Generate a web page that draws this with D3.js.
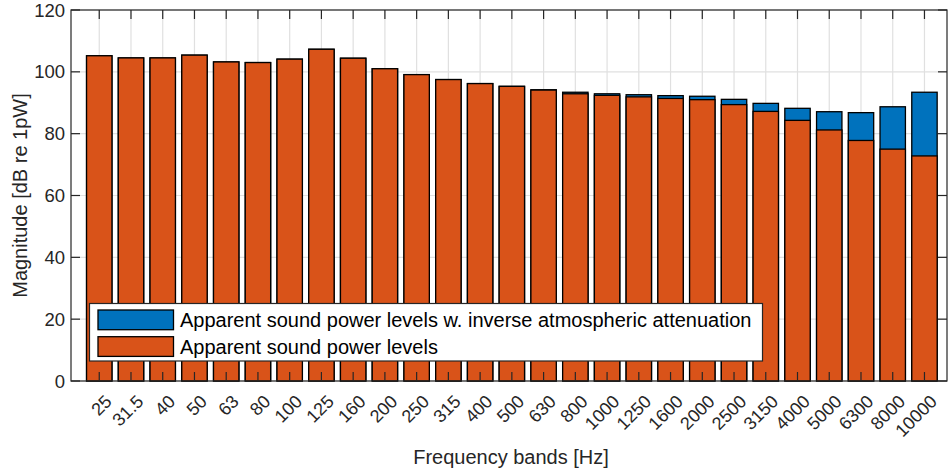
<!DOCTYPE html>
<html>
<head>
<meta charset="utf-8">
<script src="https://cdn.jsdelivr.net/npm/d3@7"></script>
<style>
  html, body { margin: 0; padding: 0; background: #fff; }
  svg { display: block; font-family: "Liberation Sans", Arial, Helvetica, sans-serif; }
</style>
</head>
<body>
<svg id="chart" width="948" height="476"></svg>
<script>
// Third-octave frequency bands [Hz]
const bands = ["25", "31.5", "40", "50", "63", "80", "100", "125", "160", "200", "250", "315",
  "400", "500", "630", "800", "1000", "1250", "1600", "2000", "2500", "3150", "4000",
  "5000", "6300", "8000", "10000"];

// Apparent sound power levels [dB re 1pW]
const apparentLevels = [105.2, 104.5, 104.5, 105.4, 103.2, 103.0, 104.1, 107.3, 104.4, 101.0,
  99.1, 97.5, 96.2, 95.3, 94.1, 92.9, 92.4, 91.9, 91.4, 91.0, 89.4, 87.2, 84.3, 81.2, 77.8,
  75.0, 72.8];

// Apparent sound power levels with inverse atmospheric attenuation [dB re 1pW]
const correctedLevels = [105.2, 104.5, 104.5, 105.4, 103.2, 103.0, 104.1, 107.3, 104.4, 101.0,
  99.1, 97.5, 96.2, 95.3, 94.2, 93.4, 92.9, 92.6, 92.3, 92.1, 91.1, 89.8, 88.2, 87.1, 86.8,
  88.7, 93.4];

const yTicks = [0, 20, 40, 60, 80, 100, 120];
const seriesNames = [
  "Apparent sound power levels w. inverse atmospheric attenuation",
  "Apparent sound power levels"
];
const seriesColors = ["#0072BD", "#D95319"];

const axisColor = "#262626";
const gridColor = "#e0e0e0";

const svg = d3.select("#chart");
const plot = { left: 71, right: 947, top: 10, bottom: 381 };

const x = d3.scaleLinear().domain([-0.89, bands.length - 0.29]).range([plot.left, plot.right]);
const y = d3.scaleLinear().domain([0, 120]).range([plot.bottom, plot.top]);
const barW = x(0.8) - x(0);
const tickLen = 9;

// grid
const grid = svg.append("g");
grid.selectAll("line.gx").data(bands).join("line")
  .attr("x1", (d, i) => x(i)).attr("x2", (d, i) => x(i))
  .attr("y1", plot.top).attr("y2", plot.bottom)
  .attr("stroke", gridColor).attr("stroke-width", 1.2);
grid.selectAll("line.gy").data(yTicks).join("line")
  .attr("x1", plot.left).attr("x2", plot.right)
  .attr("y1", d => y(d)).attr("y2", d => y(d))
  .attr("stroke", gridColor).attr("stroke-width", 1.2);

// bars: corrected levels behind, apparent levels in front
const series = [correctedLevels, apparentLevels];
series.forEach((vals, s) => {
  svg.append("g").selectAll("rect").data(vals).join("rect")
    .attr("x", (d, i) => x(i) - barW / 2)
    .attr("width", barW)
    .attr("y", d => y(d))
    .attr("height", d => y(0) - y(d))
    .attr("fill", seriesColors[s])
    .attr("stroke", "#000")
    .attr("stroke-width", 1.3);
});

// axes box and ticks
const ax = svg.append("g").attr("stroke", axisColor).attr("stroke-width", 1.2);
ax.append("rect")
  .attr("x", plot.left).attr("y", plot.top)
  .attr("width", plot.right - plot.left).attr("height", plot.bottom - plot.top)
  .attr("fill", "none");
bands.forEach((b, i) => {
  ax.append("line").attr("x1", x(i)).attr("x2", x(i)).attr("y1", plot.bottom).attr("y2", plot.bottom - tickLen);
  ax.append("line").attr("x1", x(i)).attr("x2", x(i)).attr("y1", plot.top).attr("y2", plot.top + tickLen);
});
yTicks.forEach(t => {
  ax.append("line").attr("x1", plot.left).attr("x2", plot.left + tickLen).attr("y1", y(t)).attr("y2", y(t));
  ax.append("line").attr("x1", plot.right).attr("x2", plot.right - tickLen).attr("y1", y(t)).attr("y2", y(t));
});

// y tick labels
svg.append("g").selectAll("text").data(yTicks).join("text")
  .attr("x", plot.left - 6).attr("y", d => y(d))
  .attr("dy", "0.36em")
  .attr("text-anchor", "end")
  .attr("font-size", 18.5)
  .attr("fill", axisColor)
  .text(d => d);

// x tick labels, rotated
svg.append("g").selectAll("text").data(bands).join("text")
  .attr("transform", (d, i) => `translate(${x(i) + 9},${plot.bottom + 17}) rotate(-45)`)
  .attr("dy", "0.36em")
  .attr("text-anchor", "end")
  .attr("font-size", 18)
  .attr("fill", axisColor)
  .text(d => d);

// axis titles
svg.append("text")
  .attr("x", (plot.left + plot.right) / 2 + 2).attr("y", 464)
  .attr("text-anchor", "middle")
  .attr("font-size", 20)
  .attr("fill", axisColor)
  .text("Frequency bands [Hz]");
svg.append("text")
  .attr("transform", `translate(27,${(plot.top + plot.bottom) / 2}) rotate(-90)`)
  .attr("text-anchor", "middle")
  .attr("font-size", 20)
  .attr("fill", axisColor)
  .text("Magnitude [dB re 1pW]");

// legend
const lg = svg.append("g");
lg.append("rect")
  .attr("x", 89.5).attr("y", 303.5).attr("width", 673).attr("height", 57.5)
  .attr("fill", "#fff").attr("stroke", axisColor).attr("stroke-width", 1.2);
seriesNames.forEach((name, k) => {
  const top = 310 + k * 26.7;
  lg.append("rect")
    .attr("x", 98).attr("y", top).attr("width", 75.5).attr("height", 19.7)
    .attr("fill", seriesColors[k]).attr("stroke", "#000").attr("stroke-width", 1.3);
  lg.append("text")
    .attr("x", 180).attr("y", top + 10)
    .attr("dy", "0.36em")
    .attr("font-size", 20)
    .attr("fill", "#000")
    .text(name);
});
</script>
</body>
</html>
